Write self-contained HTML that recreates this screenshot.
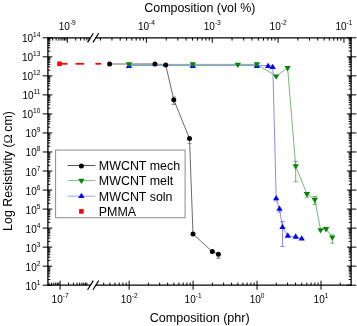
<!DOCTYPE html>
<html><head><meta charset="utf-8"><style>
html,body{margin:0;padding:0;background:#fff;}
body{width:357px;height:326px;overflow:hidden;}
svg{display:block;will-change:transform;font-family:"Liberation Sans",sans-serif;}
</style></head><body>
<svg width="357" height="326" viewBox="0 0 357 326">
<rect width="357" height="326" fill="#fff"/>
<line x1="47.90" y1="37.80" x2="47.90" y2="285.80" stroke="#000" stroke-width="1.3" />
<line x1="351.10" y1="37.20" x2="351.10" y2="285.80" stroke="#000" stroke-width="1.3" />
<line x1="47.30" y1="37.80" x2="90.90" y2="37.80" stroke="#000" stroke-width="1.3" />
<line x1="95.70" y1="37.80" x2="351.70" y2="37.80" stroke="#000" stroke-width="1.3" />
<line x1="47.30" y1="285.20" x2="90.90" y2="285.20" stroke="#000" stroke-width="1.3" />
<line x1="95.70" y1="285.20" x2="351.70" y2="285.20" stroke="#000" stroke-width="1.3" />
<line x1="87.60" y1="42.40" x2="93.30" y2="33.20" stroke="#000" stroke-width="1.2" />
<line x1="93.00" y1="42.40" x2="98.70" y2="33.20" stroke="#000" stroke-width="1.2" />
<line x1="87.60" y1="289.80" x2="93.30" y2="280.60" stroke="#000" stroke-width="1.2" />
<line x1="93.00" y1="289.80" x2="98.70" y2="280.60" stroke="#000" stroke-width="1.2" />
<line x1="42.70" y1="285.20" x2="52.30" y2="285.20" stroke="#000" stroke-width="1.0" />
<line x1="346.90" y1="285.20" x2="356.30" y2="285.20" stroke="#000" stroke-width="1.0" />
<line x1="47.90" y1="279.47" x2="50.30" y2="279.47" stroke="#000" stroke-width="1.0" />
<line x1="348.70" y1="279.47" x2="351.10" y2="279.47" stroke="#000" stroke-width="1.0" />
<line x1="47.90" y1="276.12" x2="50.30" y2="276.12" stroke="#000" stroke-width="1.0" />
<line x1="348.70" y1="276.12" x2="351.10" y2="276.12" stroke="#000" stroke-width="1.0" />
<line x1="47.90" y1="273.74" x2="50.30" y2="273.74" stroke="#000" stroke-width="1.0" />
<line x1="348.70" y1="273.74" x2="351.10" y2="273.74" stroke="#000" stroke-width="1.0" />
<line x1="47.90" y1="271.90" x2="50.30" y2="271.90" stroke="#000" stroke-width="1.0" />
<line x1="348.70" y1="271.90" x2="351.10" y2="271.90" stroke="#000" stroke-width="1.0" />
<line x1="47.90" y1="270.39" x2="50.30" y2="270.39" stroke="#000" stroke-width="1.0" />
<line x1="348.70" y1="270.39" x2="351.10" y2="270.39" stroke="#000" stroke-width="1.0" />
<line x1="47.90" y1="269.12" x2="50.30" y2="269.12" stroke="#000" stroke-width="1.0" />
<line x1="348.70" y1="269.12" x2="351.10" y2="269.12" stroke="#000" stroke-width="1.0" />
<line x1="47.90" y1="268.01" x2="50.30" y2="268.01" stroke="#000" stroke-width="1.0" />
<line x1="348.70" y1="268.01" x2="351.10" y2="268.01" stroke="#000" stroke-width="1.0" />
<line x1="47.90" y1="267.04" x2="50.30" y2="267.04" stroke="#000" stroke-width="1.0" />
<line x1="348.70" y1="267.04" x2="351.10" y2="267.04" stroke="#000" stroke-width="1.0" />
<line x1="42.70" y1="266.17" x2="52.30" y2="266.17" stroke="#000" stroke-width="1.0" />
<line x1="346.90" y1="266.17" x2="356.30" y2="266.17" stroke="#000" stroke-width="1.0" />
<line x1="47.90" y1="260.44" x2="50.30" y2="260.44" stroke="#000" stroke-width="1.0" />
<line x1="348.70" y1="260.44" x2="351.10" y2="260.44" stroke="#000" stroke-width="1.0" />
<line x1="47.90" y1="257.09" x2="50.30" y2="257.09" stroke="#000" stroke-width="1.0" />
<line x1="348.70" y1="257.09" x2="351.10" y2="257.09" stroke="#000" stroke-width="1.0" />
<line x1="47.90" y1="254.71" x2="50.30" y2="254.71" stroke="#000" stroke-width="1.0" />
<line x1="348.70" y1="254.71" x2="351.10" y2="254.71" stroke="#000" stroke-width="1.0" />
<line x1="47.90" y1="252.87" x2="50.30" y2="252.87" stroke="#000" stroke-width="1.0" />
<line x1="348.70" y1="252.87" x2="351.10" y2="252.87" stroke="#000" stroke-width="1.0" />
<line x1="47.90" y1="251.36" x2="50.30" y2="251.36" stroke="#000" stroke-width="1.0" />
<line x1="348.70" y1="251.36" x2="351.10" y2="251.36" stroke="#000" stroke-width="1.0" />
<line x1="47.90" y1="250.09" x2="50.30" y2="250.09" stroke="#000" stroke-width="1.0" />
<line x1="348.70" y1="250.09" x2="351.10" y2="250.09" stroke="#000" stroke-width="1.0" />
<line x1="47.90" y1="248.98" x2="50.30" y2="248.98" stroke="#000" stroke-width="1.0" />
<line x1="348.70" y1="248.98" x2="351.10" y2="248.98" stroke="#000" stroke-width="1.0" />
<line x1="47.90" y1="248.01" x2="50.30" y2="248.01" stroke="#000" stroke-width="1.0" />
<line x1="348.70" y1="248.01" x2="351.10" y2="248.01" stroke="#000" stroke-width="1.0" />
<line x1="42.70" y1="247.14" x2="52.30" y2="247.14" stroke="#000" stroke-width="1.0" />
<line x1="346.90" y1="247.14" x2="356.30" y2="247.14" stroke="#000" stroke-width="1.0" />
<line x1="47.90" y1="241.41" x2="50.30" y2="241.41" stroke="#000" stroke-width="1.0" />
<line x1="348.70" y1="241.41" x2="351.10" y2="241.41" stroke="#000" stroke-width="1.0" />
<line x1="47.90" y1="238.06" x2="50.30" y2="238.06" stroke="#000" stroke-width="1.0" />
<line x1="348.70" y1="238.06" x2="351.10" y2="238.06" stroke="#000" stroke-width="1.0" />
<line x1="47.90" y1="235.68" x2="50.30" y2="235.68" stroke="#000" stroke-width="1.0" />
<line x1="348.70" y1="235.68" x2="351.10" y2="235.68" stroke="#000" stroke-width="1.0" />
<line x1="47.90" y1="233.84" x2="50.30" y2="233.84" stroke="#000" stroke-width="1.0" />
<line x1="348.70" y1="233.84" x2="351.10" y2="233.84" stroke="#000" stroke-width="1.0" />
<line x1="47.90" y1="232.33" x2="50.30" y2="232.33" stroke="#000" stroke-width="1.0" />
<line x1="348.70" y1="232.33" x2="351.10" y2="232.33" stroke="#000" stroke-width="1.0" />
<line x1="47.90" y1="231.06" x2="50.30" y2="231.06" stroke="#000" stroke-width="1.0" />
<line x1="348.70" y1="231.06" x2="351.10" y2="231.06" stroke="#000" stroke-width="1.0" />
<line x1="47.90" y1="229.95" x2="50.30" y2="229.95" stroke="#000" stroke-width="1.0" />
<line x1="348.70" y1="229.95" x2="351.10" y2="229.95" stroke="#000" stroke-width="1.0" />
<line x1="47.90" y1="228.98" x2="50.30" y2="228.98" stroke="#000" stroke-width="1.0" />
<line x1="348.70" y1="228.98" x2="351.10" y2="228.98" stroke="#000" stroke-width="1.0" />
<line x1="42.70" y1="228.11" x2="52.30" y2="228.11" stroke="#000" stroke-width="1.0" />
<line x1="346.90" y1="228.11" x2="356.30" y2="228.11" stroke="#000" stroke-width="1.0" />
<line x1="47.90" y1="222.38" x2="50.30" y2="222.38" stroke="#000" stroke-width="1.0" />
<line x1="348.70" y1="222.38" x2="351.10" y2="222.38" stroke="#000" stroke-width="1.0" />
<line x1="47.90" y1="219.03" x2="50.30" y2="219.03" stroke="#000" stroke-width="1.0" />
<line x1="348.70" y1="219.03" x2="351.10" y2="219.03" stroke="#000" stroke-width="1.0" />
<line x1="47.90" y1="216.65" x2="50.30" y2="216.65" stroke="#000" stroke-width="1.0" />
<line x1="348.70" y1="216.65" x2="351.10" y2="216.65" stroke="#000" stroke-width="1.0" />
<line x1="47.90" y1="214.81" x2="50.30" y2="214.81" stroke="#000" stroke-width="1.0" />
<line x1="348.70" y1="214.81" x2="351.10" y2="214.81" stroke="#000" stroke-width="1.0" />
<line x1="47.90" y1="213.30" x2="50.30" y2="213.30" stroke="#000" stroke-width="1.0" />
<line x1="348.70" y1="213.30" x2="351.10" y2="213.30" stroke="#000" stroke-width="1.0" />
<line x1="47.90" y1="212.02" x2="50.30" y2="212.02" stroke="#000" stroke-width="1.0" />
<line x1="348.70" y1="212.02" x2="351.10" y2="212.02" stroke="#000" stroke-width="1.0" />
<line x1="47.90" y1="210.92" x2="50.30" y2="210.92" stroke="#000" stroke-width="1.0" />
<line x1="348.70" y1="210.92" x2="351.10" y2="210.92" stroke="#000" stroke-width="1.0" />
<line x1="47.90" y1="209.95" x2="50.30" y2="209.95" stroke="#000" stroke-width="1.0" />
<line x1="348.70" y1="209.95" x2="351.10" y2="209.95" stroke="#000" stroke-width="1.0" />
<line x1="42.70" y1="209.08" x2="52.30" y2="209.08" stroke="#000" stroke-width="1.0" />
<line x1="346.90" y1="209.08" x2="356.30" y2="209.08" stroke="#000" stroke-width="1.0" />
<line x1="47.90" y1="203.35" x2="50.30" y2="203.35" stroke="#000" stroke-width="1.0" />
<line x1="348.70" y1="203.35" x2="351.10" y2="203.35" stroke="#000" stroke-width="1.0" />
<line x1="47.90" y1="200.00" x2="50.30" y2="200.00" stroke="#000" stroke-width="1.0" />
<line x1="348.70" y1="200.00" x2="351.10" y2="200.00" stroke="#000" stroke-width="1.0" />
<line x1="47.90" y1="197.62" x2="50.30" y2="197.62" stroke="#000" stroke-width="1.0" />
<line x1="348.70" y1="197.62" x2="351.10" y2="197.62" stroke="#000" stroke-width="1.0" />
<line x1="47.90" y1="195.77" x2="50.30" y2="195.77" stroke="#000" stroke-width="1.0" />
<line x1="348.70" y1="195.77" x2="351.10" y2="195.77" stroke="#000" stroke-width="1.0" />
<line x1="47.90" y1="194.27" x2="50.30" y2="194.27" stroke="#000" stroke-width="1.0" />
<line x1="348.70" y1="194.27" x2="351.10" y2="194.27" stroke="#000" stroke-width="1.0" />
<line x1="47.90" y1="192.99" x2="50.30" y2="192.99" stroke="#000" stroke-width="1.0" />
<line x1="348.70" y1="192.99" x2="351.10" y2="192.99" stroke="#000" stroke-width="1.0" />
<line x1="47.90" y1="191.89" x2="50.30" y2="191.89" stroke="#000" stroke-width="1.0" />
<line x1="348.70" y1="191.89" x2="351.10" y2="191.89" stroke="#000" stroke-width="1.0" />
<line x1="47.90" y1="190.92" x2="50.30" y2="190.92" stroke="#000" stroke-width="1.0" />
<line x1="348.70" y1="190.92" x2="351.10" y2="190.92" stroke="#000" stroke-width="1.0" />
<line x1="42.70" y1="190.05" x2="52.30" y2="190.05" stroke="#000" stroke-width="1.0" />
<line x1="346.90" y1="190.05" x2="356.30" y2="190.05" stroke="#000" stroke-width="1.0" />
<line x1="47.90" y1="184.32" x2="50.30" y2="184.32" stroke="#000" stroke-width="1.0" />
<line x1="348.70" y1="184.32" x2="351.10" y2="184.32" stroke="#000" stroke-width="1.0" />
<line x1="47.90" y1="180.97" x2="50.30" y2="180.97" stroke="#000" stroke-width="1.0" />
<line x1="348.70" y1="180.97" x2="351.10" y2="180.97" stroke="#000" stroke-width="1.0" />
<line x1="47.90" y1="178.59" x2="50.30" y2="178.59" stroke="#000" stroke-width="1.0" />
<line x1="348.70" y1="178.59" x2="351.10" y2="178.59" stroke="#000" stroke-width="1.0" />
<line x1="47.90" y1="176.74" x2="50.30" y2="176.74" stroke="#000" stroke-width="1.0" />
<line x1="348.70" y1="176.74" x2="351.10" y2="176.74" stroke="#000" stroke-width="1.0" />
<line x1="47.90" y1="175.24" x2="50.30" y2="175.24" stroke="#000" stroke-width="1.0" />
<line x1="348.70" y1="175.24" x2="351.10" y2="175.24" stroke="#000" stroke-width="1.0" />
<line x1="47.90" y1="173.96" x2="50.30" y2="173.96" stroke="#000" stroke-width="1.0" />
<line x1="348.70" y1="173.96" x2="351.10" y2="173.96" stroke="#000" stroke-width="1.0" />
<line x1="47.90" y1="172.86" x2="50.30" y2="172.86" stroke="#000" stroke-width="1.0" />
<line x1="348.70" y1="172.86" x2="351.10" y2="172.86" stroke="#000" stroke-width="1.0" />
<line x1="47.90" y1="171.89" x2="50.30" y2="171.89" stroke="#000" stroke-width="1.0" />
<line x1="348.70" y1="171.89" x2="351.10" y2="171.89" stroke="#000" stroke-width="1.0" />
<line x1="42.70" y1="171.02" x2="52.30" y2="171.02" stroke="#000" stroke-width="1.0" />
<line x1="346.90" y1="171.02" x2="356.30" y2="171.02" stroke="#000" stroke-width="1.0" />
<line x1="47.90" y1="165.29" x2="50.30" y2="165.29" stroke="#000" stroke-width="1.0" />
<line x1="348.70" y1="165.29" x2="351.10" y2="165.29" stroke="#000" stroke-width="1.0" />
<line x1="47.90" y1="161.94" x2="50.30" y2="161.94" stroke="#000" stroke-width="1.0" />
<line x1="348.70" y1="161.94" x2="351.10" y2="161.94" stroke="#000" stroke-width="1.0" />
<line x1="47.90" y1="159.56" x2="50.30" y2="159.56" stroke="#000" stroke-width="1.0" />
<line x1="348.70" y1="159.56" x2="351.10" y2="159.56" stroke="#000" stroke-width="1.0" />
<line x1="47.90" y1="157.71" x2="50.30" y2="157.71" stroke="#000" stroke-width="1.0" />
<line x1="348.70" y1="157.71" x2="351.10" y2="157.71" stroke="#000" stroke-width="1.0" />
<line x1="47.90" y1="156.21" x2="50.30" y2="156.21" stroke="#000" stroke-width="1.0" />
<line x1="348.70" y1="156.21" x2="351.10" y2="156.21" stroke="#000" stroke-width="1.0" />
<line x1="47.90" y1="154.93" x2="50.30" y2="154.93" stroke="#000" stroke-width="1.0" />
<line x1="348.70" y1="154.93" x2="351.10" y2="154.93" stroke="#000" stroke-width="1.0" />
<line x1="47.90" y1="153.83" x2="50.30" y2="153.83" stroke="#000" stroke-width="1.0" />
<line x1="348.70" y1="153.83" x2="351.10" y2="153.83" stroke="#000" stroke-width="1.0" />
<line x1="47.90" y1="152.86" x2="50.30" y2="152.86" stroke="#000" stroke-width="1.0" />
<line x1="348.70" y1="152.86" x2="351.10" y2="152.86" stroke="#000" stroke-width="1.0" />
<line x1="42.70" y1="151.98" x2="52.30" y2="151.98" stroke="#000" stroke-width="1.0" />
<line x1="346.90" y1="151.98" x2="356.30" y2="151.98" stroke="#000" stroke-width="1.0" />
<line x1="47.90" y1="146.26" x2="50.30" y2="146.26" stroke="#000" stroke-width="1.0" />
<line x1="348.70" y1="146.26" x2="351.10" y2="146.26" stroke="#000" stroke-width="1.0" />
<line x1="47.90" y1="142.90" x2="50.30" y2="142.90" stroke="#000" stroke-width="1.0" />
<line x1="348.70" y1="142.90" x2="351.10" y2="142.90" stroke="#000" stroke-width="1.0" />
<line x1="47.90" y1="140.53" x2="50.30" y2="140.53" stroke="#000" stroke-width="1.0" />
<line x1="348.70" y1="140.53" x2="351.10" y2="140.53" stroke="#000" stroke-width="1.0" />
<line x1="47.90" y1="138.68" x2="50.30" y2="138.68" stroke="#000" stroke-width="1.0" />
<line x1="348.70" y1="138.68" x2="351.10" y2="138.68" stroke="#000" stroke-width="1.0" />
<line x1="47.90" y1="137.18" x2="50.30" y2="137.18" stroke="#000" stroke-width="1.0" />
<line x1="348.70" y1="137.18" x2="351.10" y2="137.18" stroke="#000" stroke-width="1.0" />
<line x1="47.90" y1="135.90" x2="50.30" y2="135.90" stroke="#000" stroke-width="1.0" />
<line x1="348.70" y1="135.90" x2="351.10" y2="135.90" stroke="#000" stroke-width="1.0" />
<line x1="47.90" y1="134.80" x2="50.30" y2="134.80" stroke="#000" stroke-width="1.0" />
<line x1="348.70" y1="134.80" x2="351.10" y2="134.80" stroke="#000" stroke-width="1.0" />
<line x1="47.90" y1="133.82" x2="50.30" y2="133.82" stroke="#000" stroke-width="1.0" />
<line x1="348.70" y1="133.82" x2="351.10" y2="133.82" stroke="#000" stroke-width="1.0" />
<line x1="42.70" y1="132.95" x2="52.30" y2="132.95" stroke="#000" stroke-width="1.0" />
<line x1="346.90" y1="132.95" x2="356.30" y2="132.95" stroke="#000" stroke-width="1.0" />
<line x1="47.90" y1="127.23" x2="50.30" y2="127.23" stroke="#000" stroke-width="1.0" />
<line x1="348.70" y1="127.23" x2="351.10" y2="127.23" stroke="#000" stroke-width="1.0" />
<line x1="47.90" y1="123.87" x2="50.30" y2="123.87" stroke="#000" stroke-width="1.0" />
<line x1="348.70" y1="123.87" x2="351.10" y2="123.87" stroke="#000" stroke-width="1.0" />
<line x1="47.90" y1="121.50" x2="50.30" y2="121.50" stroke="#000" stroke-width="1.0" />
<line x1="348.70" y1="121.50" x2="351.10" y2="121.50" stroke="#000" stroke-width="1.0" />
<line x1="47.90" y1="119.65" x2="50.30" y2="119.65" stroke="#000" stroke-width="1.0" />
<line x1="348.70" y1="119.65" x2="351.10" y2="119.65" stroke="#000" stroke-width="1.0" />
<line x1="47.90" y1="118.15" x2="50.30" y2="118.15" stroke="#000" stroke-width="1.0" />
<line x1="348.70" y1="118.15" x2="351.10" y2="118.15" stroke="#000" stroke-width="1.0" />
<line x1="47.90" y1="116.87" x2="50.30" y2="116.87" stroke="#000" stroke-width="1.0" />
<line x1="348.70" y1="116.87" x2="351.10" y2="116.87" stroke="#000" stroke-width="1.0" />
<line x1="47.90" y1="115.77" x2="50.30" y2="115.77" stroke="#000" stroke-width="1.0" />
<line x1="348.70" y1="115.77" x2="351.10" y2="115.77" stroke="#000" stroke-width="1.0" />
<line x1="47.90" y1="114.79" x2="50.30" y2="114.79" stroke="#000" stroke-width="1.0" />
<line x1="348.70" y1="114.79" x2="351.10" y2="114.79" stroke="#000" stroke-width="1.0" />
<line x1="42.70" y1="113.92" x2="52.30" y2="113.92" stroke="#000" stroke-width="1.0" />
<line x1="346.90" y1="113.92" x2="356.30" y2="113.92" stroke="#000" stroke-width="1.0" />
<line x1="47.90" y1="108.19" x2="50.30" y2="108.19" stroke="#000" stroke-width="1.0" />
<line x1="348.70" y1="108.19" x2="351.10" y2="108.19" stroke="#000" stroke-width="1.0" />
<line x1="47.90" y1="104.84" x2="50.30" y2="104.84" stroke="#000" stroke-width="1.0" />
<line x1="348.70" y1="104.84" x2="351.10" y2="104.84" stroke="#000" stroke-width="1.0" />
<line x1="47.90" y1="102.47" x2="50.30" y2="102.47" stroke="#000" stroke-width="1.0" />
<line x1="348.70" y1="102.47" x2="351.10" y2="102.47" stroke="#000" stroke-width="1.0" />
<line x1="47.90" y1="100.62" x2="50.30" y2="100.62" stroke="#000" stroke-width="1.0" />
<line x1="348.70" y1="100.62" x2="351.10" y2="100.62" stroke="#000" stroke-width="1.0" />
<line x1="47.90" y1="99.11" x2="50.30" y2="99.11" stroke="#000" stroke-width="1.0" />
<line x1="348.70" y1="99.11" x2="351.10" y2="99.11" stroke="#000" stroke-width="1.0" />
<line x1="47.90" y1="97.84" x2="50.30" y2="97.84" stroke="#000" stroke-width="1.0" />
<line x1="348.70" y1="97.84" x2="351.10" y2="97.84" stroke="#000" stroke-width="1.0" />
<line x1="47.90" y1="96.74" x2="50.30" y2="96.74" stroke="#000" stroke-width="1.0" />
<line x1="348.70" y1="96.74" x2="351.10" y2="96.74" stroke="#000" stroke-width="1.0" />
<line x1="47.90" y1="95.76" x2="50.30" y2="95.76" stroke="#000" stroke-width="1.0" />
<line x1="348.70" y1="95.76" x2="351.10" y2="95.76" stroke="#000" stroke-width="1.0" />
<line x1="42.70" y1="94.89" x2="52.30" y2="94.89" stroke="#000" stroke-width="1.0" />
<line x1="346.90" y1="94.89" x2="356.30" y2="94.89" stroke="#000" stroke-width="1.0" />
<line x1="47.90" y1="89.16" x2="50.30" y2="89.16" stroke="#000" stroke-width="1.0" />
<line x1="348.70" y1="89.16" x2="351.10" y2="89.16" stroke="#000" stroke-width="1.0" />
<line x1="47.90" y1="85.81" x2="50.30" y2="85.81" stroke="#000" stroke-width="1.0" />
<line x1="348.70" y1="85.81" x2="351.10" y2="85.81" stroke="#000" stroke-width="1.0" />
<line x1="47.90" y1="83.43" x2="50.30" y2="83.43" stroke="#000" stroke-width="1.0" />
<line x1="348.70" y1="83.43" x2="351.10" y2="83.43" stroke="#000" stroke-width="1.0" />
<line x1="47.90" y1="81.59" x2="50.30" y2="81.59" stroke="#000" stroke-width="1.0" />
<line x1="348.70" y1="81.59" x2="351.10" y2="81.59" stroke="#000" stroke-width="1.0" />
<line x1="47.90" y1="80.08" x2="50.30" y2="80.08" stroke="#000" stroke-width="1.0" />
<line x1="348.70" y1="80.08" x2="351.10" y2="80.08" stroke="#000" stroke-width="1.0" />
<line x1="47.90" y1="78.81" x2="50.30" y2="78.81" stroke="#000" stroke-width="1.0" />
<line x1="348.70" y1="78.81" x2="351.10" y2="78.81" stroke="#000" stroke-width="1.0" />
<line x1="47.90" y1="77.71" x2="50.30" y2="77.71" stroke="#000" stroke-width="1.0" />
<line x1="348.70" y1="77.71" x2="351.10" y2="77.71" stroke="#000" stroke-width="1.0" />
<line x1="47.90" y1="76.73" x2="50.30" y2="76.73" stroke="#000" stroke-width="1.0" />
<line x1="348.70" y1="76.73" x2="351.10" y2="76.73" stroke="#000" stroke-width="1.0" />
<line x1="42.70" y1="75.86" x2="52.30" y2="75.86" stroke="#000" stroke-width="1.0" />
<line x1="346.90" y1="75.86" x2="356.30" y2="75.86" stroke="#000" stroke-width="1.0" />
<line x1="47.90" y1="70.13" x2="50.30" y2="70.13" stroke="#000" stroke-width="1.0" />
<line x1="348.70" y1="70.13" x2="351.10" y2="70.13" stroke="#000" stroke-width="1.0" />
<line x1="47.90" y1="66.78" x2="50.30" y2="66.78" stroke="#000" stroke-width="1.0" />
<line x1="348.70" y1="66.78" x2="351.10" y2="66.78" stroke="#000" stroke-width="1.0" />
<line x1="47.90" y1="64.40" x2="50.30" y2="64.40" stroke="#000" stroke-width="1.0" />
<line x1="348.70" y1="64.40" x2="351.10" y2="64.40" stroke="#000" stroke-width="1.0" />
<line x1="47.90" y1="62.56" x2="50.30" y2="62.56" stroke="#000" stroke-width="1.0" />
<line x1="348.70" y1="62.56" x2="351.10" y2="62.56" stroke="#000" stroke-width="1.0" />
<line x1="47.90" y1="61.05" x2="50.30" y2="61.05" stroke="#000" stroke-width="1.0" />
<line x1="348.70" y1="61.05" x2="351.10" y2="61.05" stroke="#000" stroke-width="1.0" />
<line x1="47.90" y1="59.78" x2="50.30" y2="59.78" stroke="#000" stroke-width="1.0" />
<line x1="348.70" y1="59.78" x2="351.10" y2="59.78" stroke="#000" stroke-width="1.0" />
<line x1="47.90" y1="58.68" x2="50.30" y2="58.68" stroke="#000" stroke-width="1.0" />
<line x1="348.70" y1="58.68" x2="351.10" y2="58.68" stroke="#000" stroke-width="1.0" />
<line x1="47.90" y1="57.70" x2="50.30" y2="57.70" stroke="#000" stroke-width="1.0" />
<line x1="348.70" y1="57.70" x2="351.10" y2="57.70" stroke="#000" stroke-width="1.0" />
<line x1="42.70" y1="56.83" x2="52.30" y2="56.83" stroke="#000" stroke-width="1.0" />
<line x1="346.90" y1="56.83" x2="356.30" y2="56.83" stroke="#000" stroke-width="1.0" />
<line x1="47.90" y1="51.10" x2="50.30" y2="51.10" stroke="#000" stroke-width="1.0" />
<line x1="348.70" y1="51.10" x2="351.10" y2="51.10" stroke="#000" stroke-width="1.0" />
<line x1="47.90" y1="47.75" x2="50.30" y2="47.75" stroke="#000" stroke-width="1.0" />
<line x1="348.70" y1="47.75" x2="351.10" y2="47.75" stroke="#000" stroke-width="1.0" />
<line x1="47.90" y1="45.37" x2="50.30" y2="45.37" stroke="#000" stroke-width="1.0" />
<line x1="348.70" y1="45.37" x2="351.10" y2="45.37" stroke="#000" stroke-width="1.0" />
<line x1="47.90" y1="43.53" x2="50.30" y2="43.53" stroke="#000" stroke-width="1.0" />
<line x1="348.70" y1="43.53" x2="351.10" y2="43.53" stroke="#000" stroke-width="1.0" />
<line x1="47.90" y1="42.02" x2="50.30" y2="42.02" stroke="#000" stroke-width="1.0" />
<line x1="348.70" y1="42.02" x2="351.10" y2="42.02" stroke="#000" stroke-width="1.0" />
<line x1="47.90" y1="40.75" x2="50.30" y2="40.75" stroke="#000" stroke-width="1.0" />
<line x1="348.70" y1="40.75" x2="351.10" y2="40.75" stroke="#000" stroke-width="1.0" />
<line x1="47.90" y1="39.64" x2="50.30" y2="39.64" stroke="#000" stroke-width="1.0" />
<line x1="348.70" y1="39.64" x2="351.10" y2="39.64" stroke="#000" stroke-width="1.0" />
<line x1="47.90" y1="38.67" x2="50.30" y2="38.67" stroke="#000" stroke-width="1.0" />
<line x1="348.70" y1="38.67" x2="351.10" y2="38.67" stroke="#000" stroke-width="1.0" />
<line x1="42.70" y1="37.80" x2="52.30" y2="37.80" stroke="#000" stroke-width="1.0" />
<line x1="346.90" y1="37.80" x2="356.30" y2="37.80" stroke="#000" stroke-width="1.0" />
<line x1="48.96" y1="282.60" x2="48.96" y2="285.20" stroke="#000" stroke-width="1.0" />
<line x1="51.67" y1="282.60" x2="51.67" y2="285.20" stroke="#000" stroke-width="1.0" />
<line x1="53.89" y1="282.60" x2="53.89" y2="285.20" stroke="#000" stroke-width="1.0" />
<line x1="55.76" y1="282.60" x2="55.76" y2="285.20" stroke="#000" stroke-width="1.0" />
<line x1="57.39" y1="282.60" x2="57.39" y2="285.20" stroke="#000" stroke-width="1.0" />
<line x1="58.82" y1="282.60" x2="58.82" y2="285.20" stroke="#000" stroke-width="1.0" />
<line x1="60.10" y1="280.70" x2="60.10" y2="289.70" stroke="#000" stroke-width="1.0" />
<line x1="68.53" y1="282.60" x2="68.53" y2="285.20" stroke="#000" stroke-width="1.0" />
<line x1="73.46" y1="282.60" x2="73.46" y2="285.20" stroke="#000" stroke-width="1.0" />
<line x1="76.96" y1="282.60" x2="76.96" y2="285.20" stroke="#000" stroke-width="1.0" />
<line x1="79.67" y1="282.60" x2="79.67" y2="285.20" stroke="#000" stroke-width="1.0" />
<line x1="81.89" y1="282.60" x2="81.89" y2="285.20" stroke="#000" stroke-width="1.0" />
<line x1="83.76" y1="282.60" x2="83.76" y2="285.20" stroke="#000" stroke-width="1.0" />
<line x1="85.39" y1="282.60" x2="85.39" y2="285.20" stroke="#000" stroke-width="1.0" />
<line x1="86.82" y1="282.60" x2="86.82" y2="285.20" stroke="#000" stroke-width="1.0" />
<line x1="103.70" y1="282.60" x2="103.70" y2="285.20" stroke="#000" stroke-width="1.0" />
<line x1="109.90" y1="282.60" x2="109.90" y2="285.20" stroke="#000" stroke-width="1.0" />
<line x1="114.96" y1="282.60" x2="114.96" y2="285.20" stroke="#000" stroke-width="1.0" />
<line x1="119.24" y1="282.60" x2="119.24" y2="285.20" stroke="#000" stroke-width="1.0" />
<line x1="122.95" y1="282.60" x2="122.95" y2="285.20" stroke="#000" stroke-width="1.0" />
<line x1="126.22" y1="282.60" x2="126.22" y2="285.20" stroke="#000" stroke-width="1.0" />
<line x1="129.15" y1="280.70" x2="129.15" y2="289.70" stroke="#000" stroke-width="1.0" />
<line x1="148.40" y1="282.60" x2="148.40" y2="285.20" stroke="#000" stroke-width="1.0" />
<line x1="159.66" y1="282.60" x2="159.66" y2="285.20" stroke="#000" stroke-width="1.0" />
<line x1="167.65" y1="282.60" x2="167.65" y2="285.20" stroke="#000" stroke-width="1.0" />
<line x1="173.85" y1="282.60" x2="173.85" y2="285.20" stroke="#000" stroke-width="1.0" />
<line x1="178.91" y1="282.60" x2="178.91" y2="285.20" stroke="#000" stroke-width="1.0" />
<line x1="183.19" y1="282.60" x2="183.19" y2="285.20" stroke="#000" stroke-width="1.0" />
<line x1="186.90" y1="282.60" x2="186.90" y2="285.20" stroke="#000" stroke-width="1.0" />
<line x1="190.17" y1="282.60" x2="190.17" y2="285.20" stroke="#000" stroke-width="1.0" />
<line x1="193.10" y1="280.70" x2="193.10" y2="289.70" stroke="#000" stroke-width="1.0" />
<line x1="212.35" y1="282.60" x2="212.35" y2="285.20" stroke="#000" stroke-width="1.0" />
<line x1="223.61" y1="282.60" x2="223.61" y2="285.20" stroke="#000" stroke-width="1.0" />
<line x1="231.60" y1="282.60" x2="231.60" y2="285.20" stroke="#000" stroke-width="1.0" />
<line x1="237.80" y1="282.60" x2="237.80" y2="285.20" stroke="#000" stroke-width="1.0" />
<line x1="242.86" y1="282.60" x2="242.86" y2="285.20" stroke="#000" stroke-width="1.0" />
<line x1="247.14" y1="282.60" x2="247.14" y2="285.20" stroke="#000" stroke-width="1.0" />
<line x1="250.85" y1="282.60" x2="250.85" y2="285.20" stroke="#000" stroke-width="1.0" />
<line x1="254.12" y1="282.60" x2="254.12" y2="285.20" stroke="#000" stroke-width="1.0" />
<line x1="257.05" y1="280.70" x2="257.05" y2="289.70" stroke="#000" stroke-width="1.0" />
<line x1="276.30" y1="282.60" x2="276.30" y2="285.20" stroke="#000" stroke-width="1.0" />
<line x1="287.56" y1="282.60" x2="287.56" y2="285.20" stroke="#000" stroke-width="1.0" />
<line x1="295.55" y1="282.60" x2="295.55" y2="285.20" stroke="#000" stroke-width="1.0" />
<line x1="301.75" y1="282.60" x2="301.75" y2="285.20" stroke="#000" stroke-width="1.0" />
<line x1="306.81" y1="282.60" x2="306.81" y2="285.20" stroke="#000" stroke-width="1.0" />
<line x1="311.09" y1="282.60" x2="311.09" y2="285.20" stroke="#000" stroke-width="1.0" />
<line x1="314.80" y1="282.60" x2="314.80" y2="285.20" stroke="#000" stroke-width="1.0" />
<line x1="318.07" y1="282.60" x2="318.07" y2="285.20" stroke="#000" stroke-width="1.0" />
<line x1="321.00" y1="280.70" x2="321.00" y2="289.70" stroke="#000" stroke-width="1.0" />
<line x1="340.25" y1="282.60" x2="340.25" y2="285.20" stroke="#000" stroke-width="1.0" />
<line x1="52.66" y1="37.80" x2="52.66" y2="40.60" stroke="#000" stroke-width="1.0" />
<line x1="56.16" y1="37.80" x2="56.16" y2="40.60" stroke="#000" stroke-width="1.0" />
<line x1="58.87" y1="37.80" x2="58.87" y2="40.60" stroke="#000" stroke-width="1.0" />
<line x1="61.09" y1="37.80" x2="61.09" y2="40.60" stroke="#000" stroke-width="1.0" />
<line x1="62.96" y1="37.80" x2="62.96" y2="40.60" stroke="#000" stroke-width="1.0" />
<line x1="64.59" y1="37.80" x2="64.59" y2="40.60" stroke="#000" stroke-width="1.0" />
<line x1="66.02" y1="37.80" x2="66.02" y2="40.60" stroke="#000" stroke-width="1.0" />
<line x1="67.30" y1="37.80" x2="67.30" y2="42.80" stroke="#000" stroke-width="1.0" />
<line x1="75.73" y1="37.80" x2="75.73" y2="40.60" stroke="#000" stroke-width="1.0" />
<line x1="80.66" y1="37.80" x2="80.66" y2="40.60" stroke="#000" stroke-width="1.0" />
<line x1="84.16" y1="37.80" x2="84.16" y2="40.60" stroke="#000" stroke-width="1.0" />
<line x1="86.87" y1="37.80" x2="86.87" y2="40.60" stroke="#000" stroke-width="1.0" />
<line x1="89.09" y1="37.80" x2="89.09" y2="40.60" stroke="#000" stroke-width="1.0" />
<line x1="100.37" y1="37.80" x2="100.37" y2="40.60" stroke="#000" stroke-width="1.0" />
<line x1="111.97" y1="37.80" x2="111.97" y2="40.60" stroke="#000" stroke-width="1.0" />
<line x1="120.20" y1="37.80" x2="120.20" y2="40.60" stroke="#000" stroke-width="1.0" />
<line x1="126.58" y1="37.80" x2="126.58" y2="40.60" stroke="#000" stroke-width="1.0" />
<line x1="131.79" y1="37.80" x2="131.79" y2="40.60" stroke="#000" stroke-width="1.0" />
<line x1="136.20" y1="37.80" x2="136.20" y2="40.60" stroke="#000" stroke-width="1.0" />
<line x1="140.02" y1="37.80" x2="140.02" y2="40.60" stroke="#000" stroke-width="1.0" />
<line x1="143.39" y1="37.80" x2="143.39" y2="40.60" stroke="#000" stroke-width="1.0" />
<line x1="146.40" y1="37.80" x2="146.40" y2="42.80" stroke="#000" stroke-width="1.0" />
<line x1="166.22" y1="37.80" x2="166.22" y2="40.60" stroke="#000" stroke-width="1.0" />
<line x1="177.82" y1="37.80" x2="177.82" y2="40.60" stroke="#000" stroke-width="1.0" />
<line x1="186.05" y1="37.80" x2="186.05" y2="40.60" stroke="#000" stroke-width="1.0" />
<line x1="192.43" y1="37.80" x2="192.43" y2="40.60" stroke="#000" stroke-width="1.0" />
<line x1="197.64" y1="37.80" x2="197.64" y2="40.60" stroke="#000" stroke-width="1.0" />
<line x1="202.05" y1="37.80" x2="202.05" y2="40.60" stroke="#000" stroke-width="1.0" />
<line x1="205.87" y1="37.80" x2="205.87" y2="40.60" stroke="#000" stroke-width="1.0" />
<line x1="209.24" y1="37.80" x2="209.24" y2="40.60" stroke="#000" stroke-width="1.0" />
<line x1="212.25" y1="37.80" x2="212.25" y2="42.80" stroke="#000" stroke-width="1.0" />
<line x1="232.07" y1="37.80" x2="232.07" y2="40.60" stroke="#000" stroke-width="1.0" />
<line x1="243.67" y1="37.80" x2="243.67" y2="40.60" stroke="#000" stroke-width="1.0" />
<line x1="251.90" y1="37.80" x2="251.90" y2="40.60" stroke="#000" stroke-width="1.0" />
<line x1="258.28" y1="37.80" x2="258.28" y2="40.60" stroke="#000" stroke-width="1.0" />
<line x1="263.49" y1="37.80" x2="263.49" y2="40.60" stroke="#000" stroke-width="1.0" />
<line x1="267.90" y1="37.80" x2="267.90" y2="40.60" stroke="#000" stroke-width="1.0" />
<line x1="271.72" y1="37.80" x2="271.72" y2="40.60" stroke="#000" stroke-width="1.0" />
<line x1="275.09" y1="37.80" x2="275.09" y2="40.60" stroke="#000" stroke-width="1.0" />
<line x1="278.10" y1="37.80" x2="278.10" y2="42.80" stroke="#000" stroke-width="1.0" />
<line x1="297.92" y1="37.80" x2="297.92" y2="40.60" stroke="#000" stroke-width="1.0" />
<line x1="309.52" y1="37.80" x2="309.52" y2="40.60" stroke="#000" stroke-width="1.0" />
<line x1="317.75" y1="37.80" x2="317.75" y2="40.60" stroke="#000" stroke-width="1.0" />
<line x1="324.13" y1="37.80" x2="324.13" y2="40.60" stroke="#000" stroke-width="1.0" />
<line x1="329.34" y1="37.80" x2="329.34" y2="40.60" stroke="#000" stroke-width="1.0" />
<line x1="333.75" y1="37.80" x2="333.75" y2="40.60" stroke="#000" stroke-width="1.0" />
<line x1="337.57" y1="37.80" x2="337.57" y2="40.60" stroke="#000" stroke-width="1.0" />
<line x1="340.94" y1="37.80" x2="340.94" y2="40.60" stroke="#000" stroke-width="1.0" />
<line x1="343.95" y1="37.80" x2="343.95" y2="42.80" stroke="#000" stroke-width="1.0" />
<text x="40.40" y="289.70" text-anchor="end" font-size="10.0">10<tspan font-size="6.6" dx="0.0" dy="-5.0">1</tspan></text>
<text x="40.40" y="270.67" text-anchor="end" font-size="10.0">10<tspan font-size="6.6" dx="0.0" dy="-5.0">2</tspan></text>
<text x="40.40" y="251.64" text-anchor="end" font-size="10.0">10<tspan font-size="6.6" dx="0.0" dy="-5.0">3</tspan></text>
<text x="40.40" y="232.61" text-anchor="end" font-size="10.0">10<tspan font-size="6.6" dx="0.0" dy="-5.0">4</tspan></text>
<text x="40.40" y="213.58" text-anchor="end" font-size="10.0">10<tspan font-size="6.6" dx="0.0" dy="-5.0">5</tspan></text>
<text x="40.40" y="194.55" text-anchor="end" font-size="10.0">10<tspan font-size="6.6" dx="0.0" dy="-5.0">6</tspan></text>
<text x="40.40" y="175.52" text-anchor="end" font-size="10.0">10<tspan font-size="6.6" dx="0.0" dy="-5.0">7</tspan></text>
<text x="40.40" y="156.48" text-anchor="end" font-size="10.0">10<tspan font-size="6.6" dx="0.0" dy="-5.0">8</tspan></text>
<text x="40.40" y="137.45" text-anchor="end" font-size="10.0">10<tspan font-size="6.6" dx="0.0" dy="-5.0">9</tspan></text>
<text x="40.40" y="118.42" text-anchor="end" font-size="10.0">10<tspan font-size="6.6" dx="0.0" dy="-5.0">10</tspan></text>
<text x="40.40" y="99.39" text-anchor="end" font-size="10.0">10<tspan font-size="6.6" dx="0.0" dy="-5.0">11</tspan></text>
<text x="40.40" y="80.36" text-anchor="end" font-size="10.0">10<tspan font-size="6.6" dx="0.0" dy="-5.0">12</tspan></text>
<text x="40.40" y="61.33" text-anchor="end" font-size="10.0">10<tspan font-size="6.6" dx="0.0" dy="-5.0">13</tspan></text>
<text x="40.40" y="42.30" text-anchor="end" font-size="10.0">10<tspan font-size="6.6" dx="0.0" dy="-5.0">14</tspan></text>
<text x="60.10" y="303.00" text-anchor="middle" font-size="10.0">10<tspan font-size="6.6" dx="0.0" dy="-5.0">-7</tspan></text>
<text x="129.15" y="303.00" text-anchor="middle" font-size="10.0">10<tspan font-size="6.6" dx="0.0" dy="-5.0">-2</tspan></text>
<text x="193.10" y="303.00" text-anchor="middle" font-size="10.0">10<tspan font-size="6.6" dx="0.0" dy="-5.0">-1</tspan></text>
<text x="257.05" y="303.00" text-anchor="middle" font-size="10.0">10<tspan font-size="6.6" dx="0.0" dy="-5.0">0</tspan></text>
<text x="321.00" y="303.00" text-anchor="middle" font-size="10.0">10<tspan font-size="6.6" dx="0.0" dy="-5.0">1</tspan></text>
<text x="67.30" y="30.00" text-anchor="middle" font-size="10.0">10<tspan font-size="6.6" dx="0.0" dy="-5.0">-9</tspan></text>
<text x="146.40" y="30.00" text-anchor="middle" font-size="10.0">10<tspan font-size="6.6" dx="0.0" dy="-5.0">-4</tspan></text>
<text x="212.25" y="30.00" text-anchor="middle" font-size="10.0">10<tspan font-size="6.6" dx="0.0" dy="-5.0">-3</tspan></text>
<text x="278.10" y="30.00" text-anchor="middle" font-size="10.0">10<tspan font-size="6.6" dx="0.0" dy="-5.0">-2</tspan></text>
<text x="343.95" y="30.00" text-anchor="middle" font-size="10.0">10<tspan font-size="6.6" dx="0.0" dy="-5.0">-1</tspan></text>
<text x="199.85" y="11.5" text-anchor="middle" font-size="12.43">Composition (vol %)</text>
<text x="199.7" y="322.0" text-anchor="middle" font-size="12.6">Composition (phr)</text>
<text transform="translate(12.4,171.0) rotate(-90)" x="0" y="0" text-anchor="middle" font-size="12.4">Log Resistivity (<tspan font-family="Liberation Serif">Ω</tspan> cm)</text>
<line x1="59.50" y1="63.80" x2="67.50" y2="63.80" stroke="#f00" stroke-width="1.8" />
<line x1="75.50" y1="63.80" x2="84.00" y2="63.80" stroke="#f00" stroke-width="1.8" />
<line x1="95.40" y1="63.80" x2="101.00" y2="63.80" stroke="#f00" stroke-width="1.8" />
<polyline points="109.60,64.00 154.90,64.00 165.70,64.90 173.80,99.80 189.50,138.60 193.00,234.10 212.30,251.60 218.40,254.20" fill="none" stroke="#6a6a6a" stroke-width="1.0"/>
<polyline points="129.00,64.40 256.90,64.40 276.20,76.20 287.60,67.90 295.70,166.00 306.90,193.90 314.80,199.60 320.60,230.00 326.10,228.90 332.30,237.20" fill="none" stroke="#78b878" stroke-width="1.0"/>
<polyline points="129.00,65.60 272.80,65.60 276.20,198.50 279.50,209.10 282.50,227.20 287.80,235.90 295.70,236.90 301.70,238.70" fill="none" stroke="#8c8ce6" stroke-width="1.0"/>
<line x1="173.80" y1="99.80" x2="173.80" y2="104.30" stroke="#555" stroke-width="0.8" />
<line x1="171.60" y1="104.30" x2="176.00" y2="104.30" stroke="#555" stroke-width="0.8" />
<line x1="173.80" y1="99.80" x2="173.80" y2="96.30" stroke="#999" stroke-width="0.8" />
<line x1="171.60" y1="96.30" x2="176.00" y2="96.30" stroke="#999" stroke-width="0.8" />
<line x1="189.50" y1="138.60" x2="189.50" y2="143.60" stroke="#777" stroke-width="0.8" />
<line x1="187.30" y1="143.60" x2="191.70" y2="143.60" stroke="#777" stroke-width="0.8" />
<line x1="218.40" y1="254.20" x2="218.40" y2="258.20" stroke="#555" stroke-width="0.8" />
<line x1="216.20" y1="258.20" x2="220.60" y2="258.20" stroke="#555" stroke-width="0.8" />
<line x1="295.70" y1="166.90" x2="295.70" y2="181.70" stroke="#5a9a5a" stroke-width="0.8" />
<line x1="293.50" y1="181.70" x2="297.90" y2="181.70" stroke="#5a9a5a" stroke-width="0.8" />
<line x1="295.70" y1="166.90" x2="295.70" y2="161.40" stroke="#5a9a5a" stroke-width="0.8" />
<line x1="293.50" y1="161.40" x2="297.90" y2="161.40" stroke="#5a9a5a" stroke-width="0.8" />
<line x1="306.90" y1="194.80" x2="306.90" y2="197.40" stroke="#7ab87a" stroke-width="0.8" />
<line x1="304.70" y1="197.40" x2="309.10" y2="197.40" stroke="#7ab87a" stroke-width="0.8" />
<line x1="314.80" y1="200.50" x2="314.80" y2="204.40" stroke="#5a9a5a" stroke-width="0.8" />
<line x1="312.60" y1="204.40" x2="317.00" y2="204.40" stroke="#5a9a5a" stroke-width="0.8" />
<line x1="314.80" y1="200.50" x2="314.80" y2="196.50" stroke="#5a9a5a" stroke-width="0.8" />
<line x1="312.60" y1="196.50" x2="317.00" y2="196.50" stroke="#5a9a5a" stroke-width="0.8" />
<line x1="332.30" y1="238.10" x2="332.30" y2="243.20" stroke="#5a9a5a" stroke-width="0.8" />
<line x1="330.10" y1="243.20" x2="334.50" y2="243.20" stroke="#5a9a5a" stroke-width="0.8" />
<line x1="332.30" y1="238.10" x2="332.30" y2="234.20" stroke="#8ac88a" stroke-width="0.8" />
<line x1="330.10" y1="234.20" x2="334.50" y2="234.20" stroke="#8ac88a" stroke-width="0.8" />
<line x1="282.50" y1="226.30" x2="282.50" y2="246.50" stroke="#6f6fe0" stroke-width="0.8" />
<line x1="280.30" y1="246.50" x2="284.70" y2="246.50" stroke="#6f6fe0" stroke-width="0.8" />
<line x1="282.50" y1="226.30" x2="282.50" y2="221.60" stroke="#6f6fe0" stroke-width="0.8" />
<line x1="280.30" y1="221.60" x2="284.70" y2="221.60" stroke="#6f6fe0" stroke-width="0.8" />
<line x1="279.50" y1="208.20" x2="279.50" y2="212.20" stroke="#6f6fe0" stroke-width="0.8" />
<line x1="277.30" y1="212.20" x2="281.70" y2="212.20" stroke="#6f6fe0" stroke-width="0.8" />
<line x1="276.20" y1="197.60" x2="276.20" y2="201.10" stroke="#9a9af0" stroke-width="0.8" />
<line x1="274.00" y1="201.10" x2="278.40" y2="201.10" stroke="#9a9af0" stroke-width="0.8" />
<rect x="57.20" y="61.50" width="4.60" height="4.60" fill="#f00"/>
<circle cx="109.60" cy="64.00" r="2.5" fill="#000"/>
<circle cx="154.90" cy="64.00" r="2.5" fill="#000"/>
<circle cx="165.70" cy="64.90" r="2.5" fill="#000"/>
<circle cx="173.80" cy="99.80" r="2.5" fill="#000"/>
<circle cx="189.50" cy="138.60" r="2.5" fill="#000"/>
<circle cx="193.00" cy="234.10" r="2.5" fill="#000"/>
<circle cx="212.30" cy="251.60" r="2.5" fill="#000"/>
<circle cx="218.40" cy="254.20" r="2.5" fill="#000"/>
<polygon points="125.85,67.95 132.15,67.95 129.00,62.65" fill="#00f"/>
<polygon points="189.65,67.95 195.95,67.95 192.80,62.65" fill="#00f"/>
<polygon points="253.75,67.95 260.05,67.95 256.90,62.65" fill="#00f"/>
<polygon points="264.95,67.95 271.25,67.95 268.10,62.65" fill="#00f"/>
<polygon points="269.55,69.05 275.85,69.05 272.70,63.75" fill="#00f"/>
<polygon points="273.05,200.25 279.35,200.25 276.20,194.95" fill="#00f"/>
<polygon points="276.35,210.85 282.65,210.85 279.50,205.55" fill="#00f"/>
<polygon points="279.35,228.95 285.65,228.95 282.50,223.65" fill="#00f"/>
<polygon points="284.65,237.65 290.95,237.65 287.80,232.35" fill="#00f"/>
<polygon points="292.55,238.65 298.85,238.65 295.70,233.35" fill="#00f"/>
<polygon points="298.55,240.45 304.85,240.45 301.70,235.15" fill="#00f"/>
<polygon points="125.80,62.20 132.20,62.20 129.00,67.60" fill="#080"/>
<polygon points="189.60,62.20 196.00,62.20 192.80,67.60" fill="#080"/>
<polygon points="234.60,62.70 241.00,62.70 237.80,68.10" fill="#080"/>
<polygon points="253.70,62.20 260.10,62.20 256.90,67.60" fill="#080"/>
<polygon points="273.00,74.40 279.40,74.40 276.20,79.80" fill="#080"/>
<polygon points="284.40,66.10 290.80,66.10 287.60,71.50" fill="#080"/>
<polygon points="292.50,164.20 298.90,164.20 295.70,169.60" fill="#080"/>
<polygon points="303.70,192.10 310.10,192.10 306.90,197.50" fill="#080"/>
<polygon points="311.60,197.80 318.00,197.80 314.80,203.20" fill="#080"/>
<polygon points="317.40,228.20 323.80,228.20 320.60,233.60" fill="#080"/>
<polygon points="322.90,227.10 329.30,227.10 326.10,232.50" fill="#080"/>
<polygon points="329.10,235.40 335.50,235.40 332.30,240.80" fill="#080"/>
<rect x="55.6" y="150.1" width="129.5" height="67.6" fill="#fff" stroke="#8a8a8a" stroke-width="1"/>
<line x1="67.60" y1="165.50" x2="95.40" y2="165.50" stroke="#555" stroke-width="1.0" />
<circle cx="81.40" cy="165.90" r="2.5" fill="#000"/>
<line x1="67.60" y1="180.60" x2="95.40" y2="180.60" stroke="#80c080" stroke-width="1.0" />
<polygon points="78.20,178.70 84.60,178.70 81.40,184.10" fill="#080"/>
<line x1="67.60" y1="196.20" x2="95.40" y2="196.20" stroke="#a0a0ee" stroke-width="1.0" />
<polygon points="78.25,197.95 84.55,197.95 81.40,192.65" fill="#00f"/>
<rect x="79.10" y="209.10" width="4.60" height="4.60" fill="#f00"/>
<text x="98.8" y="170.30" font-size="12.45">MWCNT mech</text>
<text x="98.8" y="185.10" font-size="12.45">MWCNT melt</text>
<text x="98.8" y="200.90" font-size="12.45">MWCNT soln</text>
<text x="98.8" y="216.30" font-size="12.45">PMMA</text>
</svg>
</body></html>
